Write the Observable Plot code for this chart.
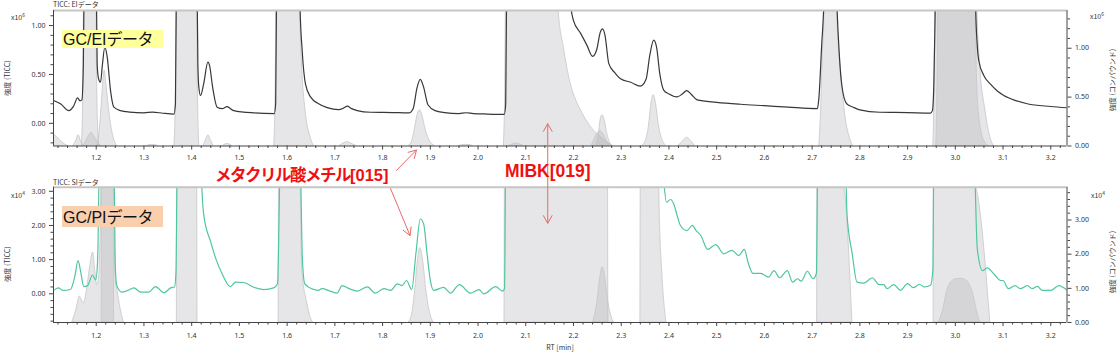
<!DOCTYPE html>
<html>
<head>
<meta charset="utf-8">
<script src="https://cdn.jsdelivr.net/npm/d3@7"></script>
<script src="https://cdn.jsdelivr.net/npm/@observablehq/plot@0.6"></script>
<style>
  html,body{margin:0;padding:0;background:#fff;}
  #chart{position:relative;width:1120px;height:355px;overflow:hidden;background:#fff;
    font-family:"Noto Sans CJK JP","Noto Sans",sans-serif;color:#333;}
  #chart svg{position:absolute;left:0;overflow:visible;}
  .t{position:absolute;white-space:nowrap;line-height:1;}
  .small{font-size:7px;color:#333;}
  .rot{transform:translate(-50%,-50%) rotate(-90deg);}
  .box{position:absolute;}
  .boxtext{font-family:"Liberation Sans","Noto Sans CJK JP",sans-serif;font-size:16px;color:#111;}
  .kana{font-family:"Noto Sans CJK JP",sans-serif;letter-spacing:-0.5px;}
  .ann{font-family:"Liberation Sans","Noto Sans CJK JP",sans-serif;font-weight:bold;color:#ee1111;}
  sup{font-size:5px;vertical-align:0;position:relative;top:-3px;}
</style>
</head>
<body>
<div id="chart"></div>
<script>
// ---------- scales / ticks ----------
const RT_DOMAIN = [1.1105, 3.234];
const xTicks = [1.2,1.3,1.4,1.5,1.6,1.7,1.8,1.9,2.0,2.1,2.2,2.3,2.4,2.5,2.6,2.7,2.8,2.9,3.0,3.1,3.2];
const eiLeftTicks = [0, 0.5, 1.0];
const eiRightTicks = [0, 0.5, 1.0];
const piLeftTicks = [0, 1, 2, 3];
const piRightTicks = [0, 1, 2, 3];
const EI_Y_DOMAIN = [-0.232, 1.154];   // left axis, x10^6
const EI_RIGHT_OFFSET = 0.232;         // right axis (compound) zero = bottom
const PI_Y_DOMAIN = [-0.84, 3.12];     // left axis, x10^4
const PI_RIGHT_OFFSET = 0.84;

// ---------- TICC traces [RT, intensity] ----------
const eiTicc = [
[1.1105,0.233],[1.125,0.2],[1.1426,0.13],[1.152,0.17],[1.161,0.26],[1.166,0.23],[1.170,0.24],[1.173,0.6],[1.176,2],[1.19,3],[1.199,2],[1.202,0.6],[1.205,0.455],[1.209,0.42],[1.213,0.6],[1.218,0.78],[1.223,0.68],[1.23,0.335],[1.237,0.165],[1.251,0.13],[1.27,0.115],[1.3,0.107],[1.318,0.115],[1.34,0.103],[1.363,0.095],[1.366,0.2],[1.369,2],[1.39,3],[1.41,2],[1.413,0.6],[1.415,0.37],[1.4185,0.285],[1.425,0.4],[1.434,0.625],[1.438,0.58],[1.443,0.4],[1.4535,0.165],[1.464,0.15],[1.474,0.17],[1.488,0.13],[1.53,0.107],[1.573,0.1],[1.576,0.2],[1.579,2],[1.6,3],[1.624,2],[1.627,1.2],[1.6316,0.74],[1.6385,0.4],[1.649,0.27],[1.666,0.2],[1.684,0.16],[1.708,0.14],[1.718,0.155],[1.726,0.175],[1.735,0.15],[1.747,0.13],[1.775,0.113],[1.82,0.11],[1.855,0.107],[1.864,0.15],[1.872,0.36],[1.879,0.45],[1.886,0.37],[1.895,0.19],[1.91,0.13],[1.93,0.11],[1.96,0.1],[1.975,0.108],[1.99,0.1],[2.02,0.095],[2.055,0.092],[2.058,0.2],[2.061,2],[2.12,3],[2.185,2.5],[2.192,1.3],[2.2,1.05],[2.215,0.92],[2.228,0.8],[2.24,0.685],[2.249,0.76],[2.256,0.93],[2.261,0.966],[2.266,0.9],[2.274,0.61],[2.286,0.52],[2.2986,0.455],[2.32,0.42],[2.34,0.38],[2.352,0.45],[2.36,0.7],[2.368,0.85],[2.374,0.78],[2.381,0.5],[2.389,0.34],[2.4,0.3],[2.417,0.27],[2.428,0.3],[2.437,0.335],[2.446,0.3],[2.459,0.24],[2.5,0.215],[2.55,0.195],[2.6,0.18],[2.65,0.165],[2.711,0.15],[2.714,0.25],[2.72,0.8],[2.725,1.3],[2.728,2],[2.74,3],[2.748,2],[2.7514,1.3],[2.757,0.7],[2.7619,0.4],[2.7724,0.2],[2.7862,0.165],[2.8,0.138],[2.842,0.113],[2.9,0.11],[2.948,0.105],[2.952,0.13],[2.955,0.4],[2.958,1.2],[2.961,2],[3.0,3],[3.04,2],[3.0425,1.2],[3.0458,0.81],[3.0492,0.64],[3.0597,0.49],[3.0737,0.4],[3.088,0.33],[3.1016,0.285],[3.125,0.235],[3.1506,0.2],[3.2,0.172],[3.234,0.159]
];
const piTicc = [
[1.1105,0.1],[1.121,0.175],[1.13,0.1],[1.146,0.125],[1.155,0.5],[1.162,0.97],[1.168,0.6],[1.174,0.21],[1.182,0.24],[1.192,0.55],[1.199,0.41],[1.203,1.0],[1.207,4],[1.237,4],[1.24,0.8],[1.243,0.24],[1.254,0.05],[1.266,0.1],[1.279,0.175],[1.293,0.05],[1.31,0.05],[1.324,0.21],[1.342,0.03],[1.356,0.175],[1.364,0.2],[1.367,0.6],[1.37,4],[1.4187,4],[1.422,2.9],[1.425,2.34],[1.44,1.51],[1.45,1.05],[1.464,0.58],[1.481,0.21],[1.492,0.34],[1.509,0.33],[1.53,0.19],[1.551,0.125],[1.572,0.175],[1.58,0.3],[1.586,4],[1.627,4],[1.632,1.0],[1.637,0.29],[1.656,0.125],[1.665,0.1],[1.673,0.15],[1.69,0.08],[1.705,0.02],[1.715,0.24],[1.73,0.15],[1.747,0.08],[1.768,0.2],[1.785,0.02],[1.803,0.15],[1.817,0.1],[1.831,0.29],[1.841,0.24],[1.85,0.39],[1.861,0.125],[1.87,1.2],[1.879,2.19],[1.886,2.05],[1.893,1.2],[1.9,0.39],[1.907,0.1],[1.928,0.19],[1.942,0.02],[1.961,0.27],[1.984,0.02],[2.002,0.12],[2.012,0.0],[2.037,0.21],[2.051,0.08],[2.0555,0.15],[2.058,4],[2.385,4],[2.389,3.3],[2.395,2.68],[2.403,2.76],[2.41,2.63],[2.417,2.3],[2.424,2.0],[2.438,1.85],[2.449,2.0],[2.457,1.85],[2.467,1.7],[2.481,1.3],[2.498,1.44],[2.515,1.17],[2.532,1.27],[2.546,1.12],[2.558,1.3],[2.566,0.9],[2.576,0.6],[2.592,0.6],[2.609,0.49],[2.62,0.68],[2.632,0.47],[2.648,0.68],[2.659,0.34],[2.669,0.44],[2.677,0.37],[2.69,0.66],[2.702,0.44],[2.709,0.6],[2.712,4],[2.7695,4],[2.773,2.34],[2.784,1.17],[2.794,0.34],[2.808,0.31],[2.826,0.47],[2.84,0.27],[2.85,0.27],[2.857,0.15],[2.871,0.27],[2.885,0.1],[2.9,0.3],[2.912,0.18],[2.925,0.28],[2.935,0.2],[2.948,0.25],[2.953,0.7],[2.955,4],[3.039,4],[3.046,1.32],[3.057,0.68],[3.067,0.76],[3.081,0.58],[3.095,0.39],[3.1,0.39],[3.111,0.15],[3.125,0.24],[3.136,0.15],[3.151,0.24],[3.161,0.15],[3.172,0.22],[3.182,0.1],[3.2,0.1],[3.217,0.24],[3.234,0.1]
];

// ---------- compound (gray) peaks, right-axis units [RT, intensity] ----------
const eiCompounds = [
["a1", [[1.1105,0.12],[1.118,0.09],[1.128,0.04],[1.14,0]]],
["a2", [[1.152,0],[1.158,0.05],[1.163,0.11],[1.168,0.05],[1.174,0]]],
["a3", [[1.170,0],[1.173,0.6],[1.176,3],[1.18,4],[1.196,4],[1.199,3],[1.202,0.6],[1.206,0]]],
["a4", [[1.174,0],[1.182,0.08],[1.19,0.135],[1.197,0.09],[1.204,0.03],[1.21,0]]],
["a5", [[1.203,0],[1.209,0.25],[1.214,0.6],[1.2175,0.77],[1.222,0.6],[1.23,0.25],[1.238,0.06],[1.245,0]]],
["a6", [[1.305,0],[1.318,0.012],[1.33,0]]],
["a7", [[1.364,0],[1.367,0.6],[1.37,3],[1.374,4],[1.405,4],[1.41,3],[1.413,0.6],[1.416,0]]],
["a8", [[1.425,0],[1.43,0.06],[1.435,0.11],[1.44,0.06],[1.446,0]]],
["a9", [[1.465,0],[1.475,0.02],[1.485,0]]],
["a10", [[1.573,0],[1.576,0.6],[1.579,3],[1.583,4],[1.622,4],[1.6266,1.6],[1.6316,0.81],[1.6385,0.365],[1.649,0.09],[1.656,0]]],
["a11", [[1.71,0],[1.718,0.025],[1.726,0.04],[1.734,0.025],[1.745,0]]],
["a12", [[1.855,0],[1.862,0.05],[1.868,0.18],[1.874,0.33],[1.878,0.365],[1.883,0.32],[1.89,0.17],[1.898,0.06],[1.91,0]]],
["a13", [[1.96,0],[1.975,0.012],[1.99,0]]],
["a14", [[2.054,0],[2.057,0.6],[2.06,3],[2.064,4],[2.16,4],[2.169,1.39],[2.18,1.0],[2.194,0.64],[2.2,0.54],[2.215,0.37],[2.23,0.24],[2.242,0.16],[2.255,0.1],[2.27,0.04],[2.282,0]]],
["a15", [[2.065,0],[2.08,0.025],[2.095,0]]],
["a16", [[2.248,0],[2.253,0.12],[2.257,0.27],[2.261,0.315],[2.265,0.27],[2.27,0.14],[2.276,0.04],[2.282,0]]],
["a17", [[2.238,0],[2.245,0.08],[2.252,0.14],[2.257,0.15],[2.263,0.12],[2.27,0.05],[2.278,0]]],
["a18", [[2.344,0],[2.352,0.06],[2.358,0.2],[2.363,0.42],[2.368,0.52],[2.373,0.43],[2.378,0.24],[2.385,0.08],[2.395,0]]],
["a19", [[2.42,0],[2.43,0.05],[2.438,0.085],[2.446,0.05],[2.455,0]]],
["a20", [[2.715,0],[2.719,0.4],[2.722,0.9],[2.7255,1.3],[2.728,2.5],[2.731,4],[2.748,4],[2.7514,1.5],[2.7628,0.64],[2.7698,0.3],[2.778,0.1],[2.786,0]]],
["a21", [[2.954,0],[2.957,0.8],[2.9605,3],[2.964,4],[3.042,4],[3.0457,1.5],[3.0524,0.81],[3.063,0.365],[3.0733,0.09],[3.0803,0]]],
["a22", [[2.96,0],[2.963,0.8],[2.966,3],[2.97,4],[3.038,4],[3.0425,1.6],[3.046,0.6],[3.053,0.2],[3.062,0.04],[3.07,0]]]
];
const piCompounds = [
["b1", [[1.15,0],[1.158,0.35],[1.1657,0.76],[1.17,0.65],[1.174,0.55],[1.18,0.9],[1.187,1.6],[1.1935,2.05],[1.198,1.5],[1.202,1.1],[1.206,1.3],[1.209,2.5],[1.212,5],[1.238,5],[1.24,1.4],[1.245,0.9],[1.251,0.4],[1.258,0]]],
["b2", [[1.2115,0],[1.2125,5],[1.2365,5],[1.2375,0]]],
["b3", [[1.369,0],[1.370,5],[1.4112,5],[1.4122,0]]],
["b4", [[1.5822,0],[1.5832,5],[1.627,5],[1.6316,1.55],[1.642,0.58],[1.652,0.05],[1.655,0]]],
["b5", [[1.855,0],[1.862,0.25],[1.868,0.9],[1.874,1.8],[1.879,2.18],[1.885,1.8],[1.892,0.9],[1.9,0.25],[1.907,0]]],
["b6", [[2.0555,0],[2.0565,5],[2.272,5],[2.273,0]]],
["b7", [[2.241,0],[2.25,0.6],[2.256,1.3],[2.261,1.62],[2.266,1.35],[2.273,0.6],[2.28,0.15],[2.285,0]]],
["b8", [[2.3402,0],[2.3412,5],[2.378,5],[2.381,3],[2.3857,1.52],[2.3947,0]]],
["b9", [[2.7105,0],[2.7112,5],[2.7665,4.0],[2.7843,0]]],
["b10", [[2.9545,0],[2.9553,5],[3.042,4.0],[3.0733,0]]],
["b11", [[2.966,0],[2.975,0.4],[2.983,0.93],[2.993,1.2],[3.003,1.27],[3.013,1.28],[3.024,1.22],[3.032,1.05],[3.038,0.8],[3.045,0.35],[3.052,0]]]
];

// ---------- annotation arrows: x in RT, y in page pixels ----------
const annotationArrows = [
  {x1:1.829, y1:170, x2:1.871, y2:149.5},
  {x1:1.8166, y1:188, x2:1.8575, y2:235},
  {x1:2.146, y1:172, x2:2.146, y2:123.3},
  {x1:2.146, y1:172, x2:2.146, y2:222.7}
];

// ---------- helpers ----------
const f1 = d3.format(".1f");
const f2 = v => { const r = Math.round(v * 100) / 100; return (r === 0 ? 0 : r).toFixed(2); };
function steps(lo, hi, step) {
  const out = [];
  for (let k = Math.ceil(lo / step - 1e-6); k * step <= hi + 1e-9; k++) out.push(+(k * step).toFixed(6));
  return out;
}
const isMajor = (v, majors) => majors.some(m => Math.abs(m - v) < 1e-6);

function panel(o) {
  const lineRows = o.line.map(([t, v]) => ({t, v}));
  const peakRows = o.peaks.flatMap(([id, pts]) => pts.map(([t, r]) => ({id, t, r})));
  const off = o.offset;
  const [y0, y1] = o.yDomain;
  const xMinor = steps(1.12, 3.23, 0.02).filter(v => !isMajor(v, xTicks));
  const leftMinor = steps(y0, y1, o.leftStep).filter(v => !isMajor(v, o.leftTicks));
  const rightMinor = steps(0, y1 + off, o.rightStep).filter(v => !isMajor(v, o.rightTicks)).map(r => r - off);
  const ax = {stroke: "#444", color: "#333", fontSize: 7, label: null};
  return Plot.plot({
    width: 1120, height: o.height,
    marginLeft: 53, marginRight: 53.5, marginTop: o.marginTop, marginBottom: o.marginBottom,
    x: {domain: RT_DOMAIN, label: null},
    y: {domain: o.yDomain, label: null},
    style: {background: "transparent", fontFamily: "'Noto Sans', sans-serif", fontSize: "7px", top: o.top + "px"},
    marks: [
      Plot.area(peakRows, {x1: "t", y1: () => y0, y2: d => d.r - off, z: "id",
        fill: "#b3b3b8", fillOpacity: 0.33, stroke: "#c6c6ca", strokeWidth: 0.8, curve: "monotone-x", clip: true}),
      Plot.line(lineRows, {x: "t", y: "v", stroke: o.color, strokeWidth: o.lineWidth, curve: "monotone-x", clip: true}),
      Plot.ruleY([y1], {stroke: "#c6c6c6", strokeWidth: 2}),
      Plot.ruleY([y0], {stroke: "#444"}),
      Plot.ruleX(RT_DOMAIN, {stroke: "#444"}),
      Plot.axisX({ticks: xTicks, tickSize: 4, tickPadding: o.xPad, tickFormat: f1, ...ax}),
      Plot.axisX({ticks: xMinor, tickSize: 2.5, tickFormat: () => "", ...ax}),
      Plot.axisY({anchor: "left", ticks: o.leftTicks, tickSize: 4, tickPadding: 4, tickFormat: f2, ...ax}),
      Plot.axisY({anchor: "left", ticks: leftMinor, tickSize: 2.5, tickFormat: () => "", ...ax}),
      Plot.axisY({anchor: "right", ticks: o.rightTicks.map(r => r - off), tickSize: 4, tickPadding: 4, tickFormat: v => f2(v + off), ...ax}),
      Plot.axisY({anchor: "right", ticks: rightMinor, tickSize: 2.5, tickFormat: () => "", ...ax})
    ]
  });
}

const chart = document.getElementById("chart");

chart.appendChild(panel({
  line: eiTicc, peaks: eiCompounds, color: "#383838", lineWidth: 1.2,
  yDomain: EI_Y_DOMAIN, offset: EI_RIGHT_OFFSET,
  leftTicks: eiLeftTicks, rightTicks: eiRightTicks, leftStep: 0.1, rightStep: 0.1,
  height: 170, marginTop: 10, marginBottom: 24.5, top: 0, xPad: 5
}));

chart.appendChild(panel({
  line: piTicc, peaks: piCompounds, color: "#4fc69e", lineWidth: 1.2,
  yDomain: PI_Y_DOMAIN, offset: PI_RIGHT_OFFSET,
  leftTicks: piLeftTicks, rightTicks: piRightTicks, leftStep: 0.2, rightStep: 0.2,
  height: 179, marginTop: 10.7, marginBottom: 33, top: 176, xPad: 7
}));

chart.appendChild(Plot.plot({
  width: 1120, height: 355, marginLeft: 53, marginRight: 53.5, marginTop: 0, marginBottom: 0,
  x: {domain: RT_DOMAIN, axis: null},
  y: {domain: [0, 355], range: [0, 355], axis: null},
  style: {background: "transparent", top: "0px"},
  marks: [
    Plot.arrow(annotationArrows, {x1: "x1", y1: "y1", x2: "x2", y2: "y2",
      stroke: "#e86a6a", strokeWidth: 1, headLength: 13, headAngle: 60})
  ]
}));

const html = `
<div class="t small" style="left:53px;top:1px">TICC: EIデータ</div>
<div class="t small" style="left:53px;top:179px">TICC: SIデータ</div>
<div class="t small" style="left:11px;top:14px">x10<sup>6</sup></div>
<div class="t small" style="left:11px;top:192px">x10<sup>4</sup></div>
<div class="t small" style="left:1090px;top:13px">x10<sup>6</sup></div>
<div class="t small" style="left:1091px;top:192px">x10<sup>4</sup></div>
<div class="t small rot" style="left:7px;top:78px">強度 (TICC)</div>
<div class="t small rot" style="left:7px;top:264px">強度 (TICC)</div>
<div class="t small rot" style="left:1112px;top:80px">強度 (コンパウンド)</div>
<div class="t small rot" style="left:1112px;top:262px">強度 (コンパウンド)</div>
<div class="t small" style="left:560px;top:347px;transform:translate(-50%,-50%)">RT [min]</div>
<div class="box" style="left:61.7px;top:30px;width:101px;height:18.3px;background:#ffff9c"></div>
<div class="t boxtext" style="left:63px;top:29.8px">GC/EI<span class="kana">データ</span></div>
<div class="box" style="left:61.7px;top:206px;width:101px;height:21.3px;background:#f9cfae"></div>
<div class="t boxtext" style="left:63px;top:208.2px">GC/PI<span class="kana">データ</span></div>
<div class="t ann" style="left:215px;top:166px;font-size:16.5px"><span style="font-family:'Noto Sans CJK JP',sans-serif;letter-spacing:-1.5px">メタクリル酸メチル</span>[015]</div>
<div class="t ann" style="left:505px;top:163.4px;font-size:17.5px">MIBK[019]</div>
`;
chart.insertAdjacentHTML("beforeend", html);
</script>
</body>
</html>
